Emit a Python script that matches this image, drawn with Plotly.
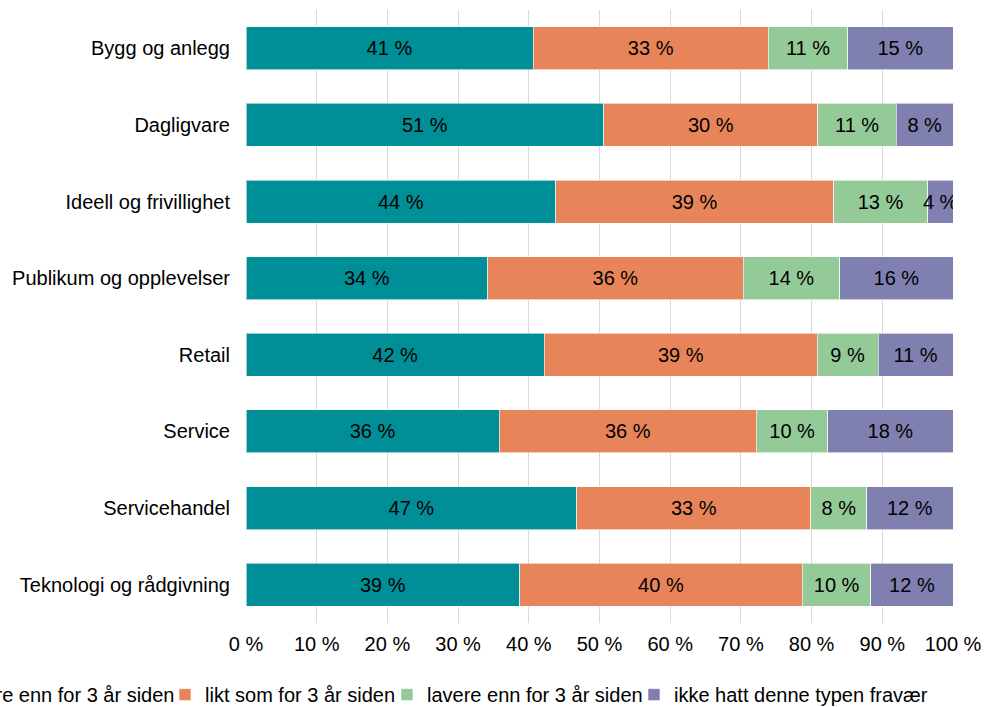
import plotly.graph_objects as go

categories = ["Bygg og anlegg", "Dagligvare", "Ideell og frivillighet",
              "Publikum og opplevelser", "Retail", "Service",
              "Servicehandel", "Teknologi og rådgivning"]

hoyere = [40.6, 50.6, 43.8, 34.2, 42.2, 35.8, 46.8, 38.7]
likt = [33.3, 30.3, 39.3, 36.1, 38.6, 36.4, 33.1, 40.0]
lavere = [11.2, 11.1, 13.3, 13.7, 8.6, 10.1, 7.9, 9.7]
ikke = [14.9, 8.0, 3.6, 16.0, 10.6, 17.7, 12.2, 11.6]

series_names = ["høyere enn for 3 år siden", "likt som for 3 år siden",
                "lavere enn for 3 år siden", "ikke hatt denne typen fravær"]
series_values = [hoyere, likt, lavere, ikke]
colors = ["#008f96", "#e8845a", "#94ca97", "#8080b0"]
legend_ids = ["legend", "legend", "legend2", "legend2"]
legend_widths = [209, 200, 202, 262]

tick_vals = [0, 10, 20, 30, 40, 50, 60, 70, 80, 90, 100]
tick_text = ["0 %", "10 %", "20 %", "30 %", "40 %", "50 %", "60 %", "70 %", "80 %", "90 %", "100 %"]

FONT = "Liberation Sans, Arial, sans-serif"
FS = 20

fig = go.Figure()
for name, vals, col, lg, lw in zip(series_names, series_values, colors, legend_ids, legend_widths):
    fig.add_trace(go.Bar(
        y=categories, x=vals, name=name, orientation="h",
        marker=dict(color=col, line=dict(color="rgba(255,255,255,0.6)", width=1)),
        texttemplate="%{x:.0f} %", textposition="inside", textangle=0,
        insidetextanchor="middle", constraintext="none",
        textfont=dict(color="#000000", size=FS, family=FONT),
        hoverinfo="skip", legend=lg, legendwidth=lw,
    ))

legend_common = dict(orientation="h", xanchor="left", y=-0.085, yanchor="top",
                     font=dict(size=FS, family=FONT, color="#000000"),
                     traceorder="normal", itemwidth=30, bgcolor="rgba(0,0,0,0)",
                     borderwidth=0)

fig.update_layout(
    width=984, height=707,
    barmode="stack", bargap=0.44,
    plot_bgcolor="white", paper_bgcolor="white",
    font=dict(family=FONT, size=FS, color="#000000"),
    margin=dict(l=246, r=31, t=10, b=84, autoexpand=False),
    uniformtext=dict(mode="show", minsize=FS),
    showlegend=True,
    legend=dict(x=-0.4738, **legend_common),
    legend2=dict(x=0.1994, **legend_common),
    xaxis=dict(range=[0, 100], tickvals=tick_vals, ticktext=tick_text,
               showgrid=True, gridcolor="#d9d9d9", gridwidth=1,
               zeroline=False, showline=False,
               ticks="outside", ticklen=3, tickcolor="rgba(0,0,0,0)",
               tickfont=dict(size=FS, family=FONT), fixedrange=True),
    yaxis=dict(autorange="reversed", showgrid=False, zeroline=False, showline=False,
               ticks="outside", ticklen=11, tickcolor="rgba(0,0,0,0)",
               tickfont=dict(size=FS, family=FONT)),
)

fig.write_html("out.html", config={"displayModeBar": False},
               post_script="document.body.style.margin='0';")
